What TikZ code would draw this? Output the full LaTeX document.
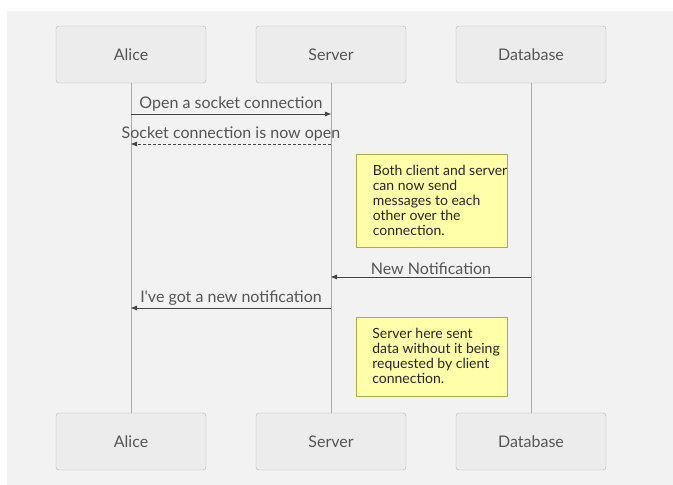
\documentclass[tikz,border=0pt]{standalone}
\usepackage{fontspec}
\setmainfont{Lato}[Ligatures=TeXOff]
\usetikzlibrary{arrows.meta}
\definecolor{canvas}{HTML}{F2F2F2}
\definecolor{actorfill}{HTML}{ECECEC}
\definecolor{actorline}{HTML}{B4B4B4}
\definecolor{lifeline}{HTML}{AAAAAA}
\definecolor{msgline}{HTML}{444444}
\definecolor{msgtext}{HTML}{555555}
\definecolor{notefill}{HTML}{FFFFAA}
\definecolor{noteline}{HTML}{AAAA55}
\tikzset{
  actor/.style={draw=actorline, fill=actorfill, rounded corners=3pt,
    minimum width=150pt, minimum height=57pt, inner sep=0pt,
    font=\fontsize{16}{19}\selectfont, text=msgtext},
  lifelinestyle/.style={draw=lifeline, line width=0.8pt},
  msg/.style={draw=msgline, line width=1pt,
    -{Triangle[length=6pt,width=4.5pt]}},
  reply/.style={msg, dash pattern=on 3pt off 2pt},
  msglabel/.style={font=\fontsize{16}{19}\selectfont, text=msgtext, inner sep=2pt},
  notebox/.style={draw=noteline, fill=notefill, line width=0.8pt,
    minimum width=151pt, inner sep=0pt},
  notetext/.style={font=\fontsize{14}{15}\selectfont, text=black!85,
    align=left, inner sep=0pt, anchor=north west}
}
\begin{document}
\begin{tikzpicture}[x=1pt,y=-1pt]
\useasboundingbox (0,0) rectangle (673,485);
\fill[canvas] (7,11) rectangle (673,485);

% participants, top and bottom
\node[actor] (aliceTop) at (131,54.5) {Alice};
\node[actor] (serverTop) at (331,54.5) {Server};
\node[actor] (dbTop) at (531,54.5) {Database};
\node[actor] (aliceBot) at (131,441.5) {Alice};
\node[actor] (serverBot) at (331,441.5) {Server};
\node[actor] (dbBot) at (531,441.5) {Database};

% lifelines
\draw[lifelinestyle] (aliceTop) -- (aliceBot);
\draw[lifelinestyle] (serverTop) -- (serverBot);
\draw[lifelinestyle] (dbTop) -- (dbBot);

% message end points on the lifelines
\coordinate (m1a) at (131,114); \coordinate (m1s) at (331,114);
\coordinate (m2a) at (131,144); \coordinate (m2s) at (331,144);
\coordinate (m3s) at (331,277); \coordinate (m3d) at (531,277);
\coordinate (m4a) at (131,308); \coordinate (m4s) at (331,308);

\draw[msg] (m1a) -- (m1s) node[midway, above, msglabel] {Open a socket connection};
\draw[reply] (m2s) -- (m2a) node[midway, above, msglabel] {Socket connection is now open};
\draw[msg] (m3d) -- (m3s) node[midway, above, msglabel] {New Notification};
\draw[msg] (m4s) -- (m4a) node[midway, above, msglabel] {I've got a new notification};

% notes
\node[notebox, minimum height=93pt] (note1) at (431.5,200.5) {};
\node[notetext] (note1text) at ([xshift=17pt,yshift=-11pt]note1.north west)
  {Both client and server\\can now send\\messages to each\\other over the\\connection.};
\node[notebox, minimum height=79pt] (note2) at (432,356.5) {};
\node[notetext] (note2text) at ([xshift=16pt,yshift=-11pt]note2.north west)
  {Server here sent\\data without it being\\requested by client\\connection.};
\end{tikzpicture}
\end{document}
